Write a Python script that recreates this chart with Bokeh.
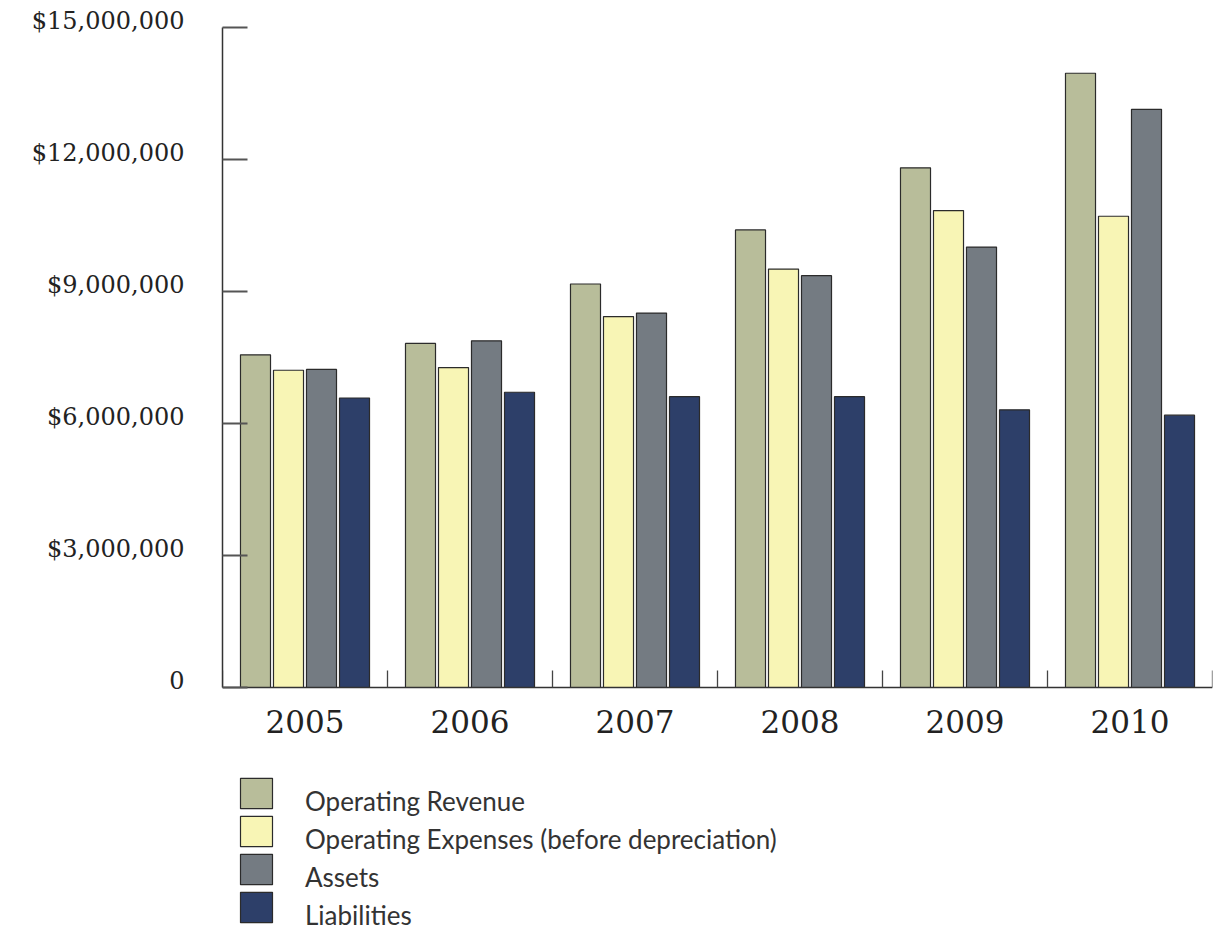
from bokeh.plotting import figure
from bokeh.models import Range1d, FixedTicker, ColumnDataSource, Legend, LegendItem, LinearAxis
from bokeh.transform import dodge
from bokeh.embed import file_html
from bokeh.resources import INLINE

years = ["2005", "2006", "2007", "2008", "2009", "2010"]
operating_revenue = [7.56e6, 7.82e6, 9.17e6, 10.40e6, 11.81e6, 13.96e6]
operating_expenses = [7.21e6, 7.27e6, 8.43e6, 9.51e6, 10.84e6, 10.71e6]
assets = [7.23e6, 7.88e6, 8.51e6, 9.36e6, 10.01e6, 13.14e6]
liabilities = [6.58e6, 6.71e6, 6.61e6, 6.61e6, 6.31e6, 6.19e6]
series_names = ["Operating Revenue", "Operating Expenses (before depreciation)", "Assets", "Liabilities"]
series_colors = ["#b8bd9a", "#f8f5b5", "#747b82", "#2d3f69"]
y_ticks = [0, 3e6, 6e6, 9e6, 12e6, 15e6]
y_tick_labels = ["0", "$3,000,000", "$6,000,000", "$9,000,000", "$12,000,000", "$15,000,000"]

W, H = 1222, 932
F_LEFT, F_RIGHT, F_TOP = 222, 1212, 4
TOP_TICK_Y, ZERO_Y = 27, 687
Y_MAX = 15e6
per_px = Y_MAX / (ZERO_Y - TOP_TICK_Y)
y_start = -(H - ZERO_Y) * per_px
y_end = Y_MAX + (TOP_TICK_Y - F_TOP) * per_px
label_shift = 7 * per_px

p = figure(width=W, height=H, output_backend="svg", toolbar_location=None,
           x_range=Range1d(0, len(years)), y_range=Range1d(y_start, y_end),
           x_axis_location=None, y_axis_location=None,
           min_border_left=F_LEFT, min_border_right=W - F_RIGHT, min_border_top=F_TOP,
           min_border_bottom=0, tools="")
p.outline_line_color = None
p.xgrid.grid_line_color = None
p.ygrid.grid_line_color = None
p.background_fill_color = "white"
p.border_fill_color = "white"
p.extra_y_ranges = {"labels": Range1d(y_start - label_shift, y_end - label_shift)}

centers = [i + 0.5 for i in range(len(years))]
source = ColumnDataSource(dict(xc=centers, year=years, rev=operating_revenue,
                               exp=operating_expenses, ast=assets, lia=liabilities))
cols = ["rev", "exp", "ast", "lia"]
offsets = [-0.3, -0.1, 0.1, 0.3]
renderers = []
for col, off, color in zip(cols, offsets, series_colors):
    r = p.vbar(x=dodge("xc", off), top=col, bottom=0, width=0.182, source=source,
               fill_color=color, line_color="#2b2b2b", line_width=1.2)
    renderers.append(r)

# invisible renderer used only to carry the legend texts
blank = p.vbar(x=[], top=[], width=0.1, fill_alpha=0, line_alpha=0)

# y axis: ticks and line
ytick = LinearAxis(ticker=FixedTicker(ticks=y_ticks), bounds=(0, Y_MAX))
ytick.major_label_overrides = {t: "" for t in y_ticks}
ytick.major_tick_in = 25
ytick.major_tick_out = 0
ytick.minor_tick_in = 0
ytick.minor_tick_out = 0
ytick.major_label_standoff = 0
ytick.axis_line_color = "#333333"
ytick.axis_line_width = 1.5
ytick.major_tick_line_color = "#555555"
ytick.major_tick_line_width = 2
p.add_layout(ytick, "left")

# y axis: labels (sitting on their tick lines)
ylab = LinearAxis(ticker=FixedTicker(ticks=y_ticks), y_range_name="labels")
ylab.major_label_overrides = {t: l for t, l in zip(y_ticks, y_tick_labels)}
ylab.axis_line_color = None
ylab.major_tick_line_color = None
ylab.minor_tick_line_color = None
ylab.major_tick_in = 0
ylab.major_tick_out = 0
ylab.major_label_standoff = 38
ylab.major_label_text_font = "DejaVu Serif"
ylab.major_label_text_font_size = "24px"
ylab.major_label_text_color = "#222222"
p.add_layout(ylab, "left")

# x axis at y = 0
xax = LinearAxis(fixed_location=0,
                 ticker=FixedTicker(ticks=centers, minor_ticks=list(range(len(years) + 1))))
xax.major_label_overrides = {c: y for c, y in zip(centers, years)}
xax.major_tick_in = 0
xax.major_tick_out = 0
xax.minor_tick_in = 17
xax.minor_tick_out = 0
xax.minor_tick_line_color = "#444444"
xax.minor_tick_line_width = 1.3
xax.major_label_standoff = 22
xax.major_label_text_font = "DejaVu Serif"
xax.major_label_text_font_size = "31px"
xax.major_label_text_color = "#222222"
xax.axis_line_color = "#333333"
xax.axis_line_width = 1.5
p.add_layout(xax, "below")

common = dict(orientation="vertical", glyph_width=40, glyph_height=38, label_height=38,
              spacing=0, label_standoff=29, padding=0, margin=0,
              border_line_color=None, background_fill_alpha=0,
              label_text_font="Lato", label_text_font_size="26px",
              label_text_color="#333333")
# swatches
legend_boxes = Legend(items=[LegendItem(label=" ", renderers=[r]) for r in renderers],
                      location=(236 - F_LEFT, 6), **common)
# texts, set a little lower than the swatch centres
legend_texts = Legend(items=[LegendItem(label=n, renderers=[blank]) for n in series_names],
                      location=(236 - F_LEFT, 6 - 8), **common)
p.add_layout(legend_boxes, "center")
p.add_layout(legend_texts, "center")

open("out.html", "w").write(file_html(p, INLINE))
